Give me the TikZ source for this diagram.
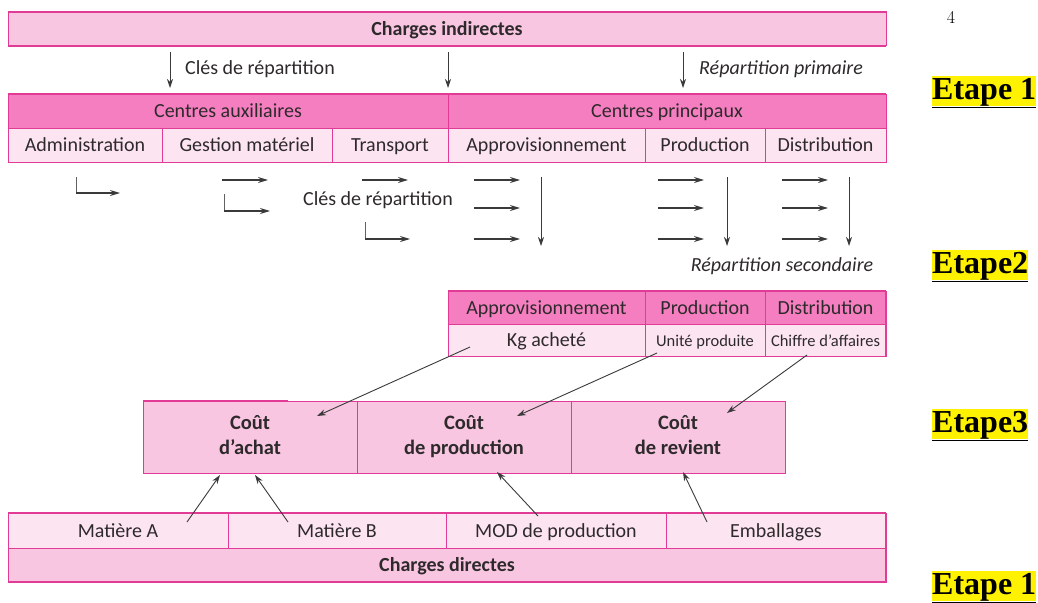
\documentclass[tikz,border=0pt]{standalone}
\usepackage{fontspec}
\setmainfont{Carlito}
\newfontfamily\timesf{Liberation Serif}
\newfontfamily\lmrf{Latin Modern Roman}
\usetikzlibrary{arrows.meta,calc}
\definecolor{pinkA}{HTML}{F9C6E2}
\definecolor{pinkB}{HTML}{F47EBF}
\definecolor{pinkC}{HTML}{FCE4F1}
\definecolor{bord}{HTML}{E23B96}
\definecolor{txt}{HTML}{2E2A2C}
\definecolor{arrc}{HTML}{3A3A3A}
\begin{document}
\begin{tikzpicture}[x=1pt,y=-1pt,
  cellbase/.style={draw=bord, line width=1pt, inner sep=0pt, outer sep=0pt, anchor=north west,
    text=txt, font=\fontsize{20}{22}\selectfont, minimum height=34pt},
  cell/.style={cellbase, text height=15.5pt, text depth=2.5pt},
  light/.style={cell, fill=pinkC},
  mid/.style={cell, fill=pinkB},
  bar/.style={cell, fill=pinkA, font=\fontsize{20}{22}\selectfont\bfseries},
  small/.style={font=\fontsize{16.5}{18}\selectfont},
  cost/.style={cellbase, fill=pinkA, minimum height=72pt, align=center,
    font=\fontsize{20.5}{25}\selectfont\bfseries},
  lbl/.style={text=txt, inner sep=0pt, font=\fontsize{20}{22}\selectfont},
  ilbl/.style={lbl, font=\fontsize{20}{22}\selectfont\itshape},
  etape/.style={fill=yellow, inner sep=0pt, anchor=west, text height=23pt, text depth=7pt,
    font=\timesf\fontsize{32}{34}\selectfont\bfseries},
  arw/.style={draw=arrc, line width=0.9pt, -{Stealth[length=9pt,width=6pt]}},
  harw/.style={draw=arrc, line width=1.4pt, -{Stealth[length=10pt,width=6pt]}},
  lline/.style={draw=arrc!80, line width=0.9pt},
  thickb/.style={draw=bord, line width=2pt}
]
\useasboundingbox (0,0) rectangle (1038,602);
\fill[white] (0,0) rectangle (1038,602);

% ---------- top: charges indirectes ----------
\node[bar, minimum width=878pt] (ci) at (8,12) {Charges indirectes};
\draw[thickb] (ci.north west) -- (ci.north east);
\draw[thickb] (ci.south west) -- (ci.south east);

\coordinate (a1s) at (170,52); \coordinate (a1e) at (170,88);
\coordinate (a2s) at (448,52); \coordinate (a2e) at (448,88);
\coordinate (a3s) at (683,52); \coordinate (a3e) at (683,88);
\draw[arw] (a1s) -- (a1e);
\draw[arw] (a2s) -- (a2e);
\draw[arw] (a3s) -- (a3e);
\node[lbl, anchor=west] (cle1) at (185,69) {Clés de répartition};
\node[ilbl, anchor=west] (rp) at (699,69) {Répartition primaire};

% ---------- centres ----------
\node[mid, minimum width=440pt] (caux) at (8,94) {Centres auxiliaires};
\node[mid, minimum width=438pt] (cpri) at (448,94) {Centres principaux};
\draw[thickb] (caux.north west) -- (cpri.north east);
\node[light, minimum width=154pt] (adm) at (8,128) {Administration};
\node[light, minimum width=170pt] (gm) at (162,128) {Gestion matériel};
\node[light, minimum width=116pt] (tr) at (332,128) {Transport};
\node[light, minimum width=197pt] (ap) at (448,128) {Approvisionnement};
\node[light, minimum width=120pt] (pr) at (645,128) {Production};
\node[light, minimum width=121pt] (di) at (765,128) {Distribution};

% ---------- secondary distribution arrows ----------
\coordinate (l1a) at (76,177); \coordinate (l1b) at (76,193); \coordinate (l1c) at (120,193);
\draw[lline] (l1a) -- (l1b);
\draw[harw] (l1b) -- (l1c);
\coordinate (h1a) at (222,180); \coordinate (h1b) at (268,180);
\draw[harw] (h1a) -- (h1b);
\coordinate (l2a) at (224,194); \coordinate (l2b) at (224,211); \coordinate (l2c) at (270,211);
\draw[lline] (l2a) -- (l2b);
\draw[harw] (l2b) -- (l2c);
\coordinate (h2a) at (362,180); \coordinate (h2b) at (408,180);
\draw[harw] (h2a) -- (h2b);
\coordinate (l3a) at (365,222); \coordinate (l3b) at (365,239); \coordinate (l3c) at (410,239);
\draw[lline] (l3a) -- (l3b);
\draw[harw] (l3b) -- (l3c);
\node[lbl] (cle2) at (378,200) {Clés de répartition};

\foreach \x/\v [count=\i] in {474/541, 658/727, 782/849} {
  \coordinate (r\i a) at (\x,180); \coordinate (r\i b) at (\x+46,180);
  \coordinate (s\i a) at (\x,208); \coordinate (s\i b) at (\x+46,208);
  \coordinate (t\i a) at (\x,239); \coordinate (t\i b) at (\x+46,239);
  \coordinate (v\i a) at (\v,177); \coordinate (v\i b) at (\v,246);
  \draw[harw] (r\i a) -- (r\i b);
  \draw[harw] (s\i a) -- (s\i b);
  \draw[harw] (t\i a) -- (t\i b);
  \draw[arw] (v\i a) -- (v\i b);
}
\node[ilbl] (rs) at (782,266) {Répartition secondaire};

% ---------- units of work ----------
\node[mid, minimum width=197pt, minimum height=33pt] (ap2) at (448,291) {Approvisionnement};
\node[mid, minimum width=120pt, minimum height=33pt] (pr2) at (645,291) {Production};
\node[mid, minimum width=121pt, minimum height=33pt] (di2) at (765,291) {Distribution};
\draw[thickb] (ap2.north west) -- (di2.north east);
\node[light, minimum width=197pt, minimum height=32pt] (kg) at (448,324) {Kg acheté};
\node[light, small, minimum width=120pt, minimum height=32pt] (up) at (645,324) {Unité produite};
\node[light, small, minimum width=121pt, minimum height=32pt] (ca) at (765,324) {Chiffre d’affaires};
\draw[thickb] (di2.north east) -- (ca.south east);

% ---------- costs ----------
\node[cost, minimum width=214pt] (cA) at (143,401) {Coût\\d’achat\vphantom{p}};
\node[cost, minimum width=214pt] (cP) at (357,401) {Coût\\de production};
\node[cost, minimum width=214pt] (cR) at (571,401) {Coût\\de revient\vphantom{p}};
\draw[thickb] (cA.north west) -- ($(cA.north west)+(145,0)$);

\coordinate (kgS) at (470,347); \coordinate (kgE) at (317,416);
\coordinate (upS) at (657,353); \coordinate (upE) at (517,416);
\coordinate (caS) at (807,355); \coordinate (caE) at (727,413);
\draw[arw] (kgS) -- (kgE);
\draw[arw] (upS) -- (upE);
\draw[arw] (caS) -- (caE);

% ---------- charges directes ----------
\node[light, minimum width=220pt, minimum height=35pt] (mA) at (8,513) {Matière A};
\node[light, minimum width=218pt, minimum height=35pt] (mB) at (228,513) {Matière B};
\node[light, minimum width=220pt, minimum height=35pt] (mod) at (446,513) {MOD de production};
\node[light, minimum width=220pt, minimum height=35pt] (emb) at (666,513) {Emballages};
\node[bar, minimum width=878pt, minimum height=34pt] (cd) at (8,548) {Charges directes};
\draw[thickb] (mA.north west) -- (emb.north east);
\draw[thickb] (cd.south west) -- (cd.south east);
\draw[thickb] (emb.north east) -- (cd.south east);

\coordinate (mAS) at (187,522); \coordinate (mAE) at (220,475);
\coordinate (mBS) at (288,522); \coordinate (mBE) at (255,475);
\coordinate (modS) at (538,516); \coordinate (modE) at (497,472);
\coordinate (embS) at (707,522); \coordinate (embE) at (683,472);
\draw[arw] (mAS) -- (mAE);
\draw[arw] (mBS) -- (mBE);
\draw[arw] (modS) -- (modE);
\draw[arw] (embS) -- (embE);

% ---------- right side ----------
\node[inner sep=0pt, font=\lmrf\fontsize{18}{20}\selectfont] (pg) at (951,17) {4};
\node[etape] (e1) at (932,91) {\underline{Etape 1}};
\node[etape] (e2) at (932,265) {\underline{Etape2}};
\node[etape] (e3) at (932,424) {\underline{Etape3}};
\node[etape] (e4) at (932,586) {\underline{Etape 1}};
\end{tikzpicture}
\end{document}
